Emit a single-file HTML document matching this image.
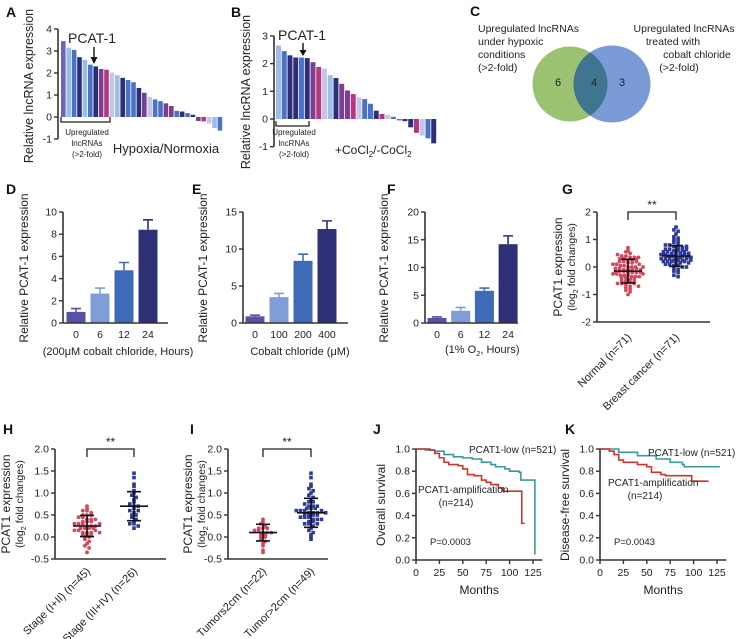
<!DOCTYPE html>
<html><head><meta charset="utf-8"><style>
html,body{margin:0;padding:0;background:#fff;}
svg{display:block;font-family:"Liberation Sans",Arial,sans-serif;}
</style></head><body>
<svg id="fig" width="739" height="639" viewBox="0 0 739 639"></svg>
<script>
// ---------- DATA ----------
const aValues=[3.45,3.15,3.05,2.72,2.6,2.38,2.3,2.18,2.15,2.02,1.9,1.78,1.68,1.58,1.32,1.1,0.92,0.8,0.72,0.62,0.5,0.28,0.25,0.18,0.1,-0.18,-0.2,-0.3,-0.5,-0.62];
const bValues=[2.65,2.45,2.3,2.22,2.22,2.2,2.05,1.88,1.82,1.58,1.48,1.27,1.03,0.9,0.78,0.72,0.55,0.3,0.18,0.15,0.08,-0.05,-0.08,-0.3,-0.5,-0.6,-0.7,-0.88];
const aTicks=[-1,0,1,2,3,4];
const bTicks=[-1,0,1,2,3];
const dCats=['0','6','12','24'];
const dMeans=[1.0,2.65,4.75,8.4];
const dErr=[0.3,0.5,0.7,0.9];
const dTicks=[0,2,4,6,8,10];
const eCats=['0','100','200','400'];
const eMeans=[0.9,3.5,8.4,12.7];
const eErr=[0.15,0.5,0.9,1.1];
const eTicks=[0,5,10,15];
const fCats=['0','6','12','24'];
const fMeans=[0.9,2.2,5.8,14.2];
const fErr=[0.2,0.6,0.5,1.5];
const fTicks=[0,5,10,15,20];
const gNormal=[0.7,0.6,0.55,0.5,0.45,0.4,0.4,0.35,0.35,0.3,0.3,0.25,0.25,0.2,0.2,0.15,0.15,0.1,0.1,0.05,0.05,0,0,0,-0.05,-0.05,-0.1,-0.1,-0.1,-0.15,-0.15,-0.15,-0.2,-0.2,-0.2,-0.25,-0.25,-0.3,-0.3,-0.3,-0.35,-0.35,-0.4,-0.4,-0.45,-0.45,-0.5,-0.5,-0.55,-0.55,-0.6,-0.6,-0.65,-0.7,-0.75,-0.8,-0.85,-0.9,-1.0,-0.05,0.1,-0.2,0.3,-0.35,0.0,-0.1,-0.25,0.2,-0.6,-0.7,0.35];
const gCancer=[1.45,1.35,1.3,1.2,1.1,1.05,1.0,0.95,0.9,0.85,0.8,0.8,0.75,0.7,0.7,0.65,0.65,0.6,0.6,0.55,0.55,0.5,0.5,0.5,0.45,0.45,0.45,0.4,0.4,0.4,0.4,0.35,0.35,0.35,0.3,0.3,0.3,0.25,0.25,0.25,0.2,0.2,0.2,0.15,0.15,0.1,0.1,0.05,0.05,0,0,-0.05,-0.1,-0.15,-0.2,-0.3,-0.35,0.4,0.45,0.35,0.55,0.3,0.6,0.25,0.5,0.65,0.2,0.75,0.15,0.4,0.35];
const gStats=[[-0.15,0.43],[0.4,0.38]];
const gTicks=[-2,-1,0,1,2];
const hLow=[0.7,0.65,0.6,0.6,0.55,0.5,0.5,0.45,0.45,0.4,0.4,0.35,0.35,0.3,0.3,0.3,0.25,0.25,0.25,0.2,0.2,0.2,0.15,0.15,0.1,0.1,0.1,0.05,0.05,0,0,-0.05,-0.1,-0.15,-0.2,-0.25,-0.35,0.35,0.2,0.15,0.05,0.4,0.3,0.1,0.5];
const hHigh=[1.45,1.35,1.2,1.15,1.05,1.0,0.95,0.9,0.85,0.8,0.75,0.7,0.7,0.65,0.6,0.55,0.5,0.5,0.45,0.4,0.35,0.3,0.3,0.25,0.2,0.6];
const hStats=[[0.25,0.24],[0.7,0.33]];
const iLow=[0.4,0.35,0.3,0.25,0.2,0.2,0.15,0.15,0.1,0.1,0.1,0.05,0.05,0,0,-0.05,-0.1,-0.15,-0.2,-0.3,-0.35,0.2];
const iHigh=[1.45,1.35,1.2,1.15,1.1,1.05,1.0,0.95,0.9,0.85,0.8,0.8,0.75,0.7,0.7,0.65,0.65,0.6,0.6,0.6,0.55,0.55,0.55,0.5,0.5,0.5,0.45,0.45,0.45,0.4,0.4,0.35,0.35,0.3,0.3,0.25,0.2,0.15,0.1,0.05,0,-0.05,0.5,0.6,0.4,0.7,0.3,0.55,0.65];
const iStats=[[0.1,0.19],[0.55,0.33]];
const hiTicks=[-0.5,0,0.5,1.0,1.5,2.0];
const kmTicksX=[0,25,50,75,100,125];
const kmTicksY=[0,0.2,0.4,0.6,0.8,1.0];
const jLowT=[0,10,20,30,40,50,60,70,80,85,95,100,110,112,127,127];
const jLowS=[1,0.99,0.98,0.95,0.93,0.92,0.91,0.88,0.86,0.84,0.82,0.8,0.79,0.72,0.72,0.05];
const jAmpT=[0,15,20,25,30,35,45,50,55,62,70,75,80,88,93,113,113,116];
const jAmpS=[1,0.99,0.96,0.92,0.88,0.86,0.85,0.82,0.77,0.76,0.72,0.7,0.68,0.65,0.62,0.61,0.33,0.33];
const kLowT=[0,20,40,60,75,88,90,128];
const kLowS=[1,0.97,0.94,0.91,0.88,0.86,0.84,0.84];
const kAmpT=[0,10,15,20,25,40,50,55,65,70,98,98,116];
const kAmpS=[1,0.98,0.95,0.9,0.88,0.86,0.84,0.79,0.77,0.76,0.76,0.71,0.71];

// ---------- STYLE ----------
const colorsA=['#6a66b8','#9bbde8','#4a72c8','#2c2f78','#9bbde8','#4a72c8','#2c2f78','#7a3f8e','#b6367f','#c5c6e6','#9bbde8','#2c2f78','#4a72c8','#4a72c8','#2c2f78','#7a3f8e','#c5c6e6','#4a72c8','#4a72c8','#7a3f8e','#7a3f8e','#4a72c8','#2c2f78','#4a72c8','#2c2f78','#7a3f8e','#b6367f','#c5c6e6','#9bbde8','#4a72c8'];
const colorsB=['#9bbde8','#4a72c8','#2c2f78','#2c2f78','#4a72c8','#2c2f78','#7a3f8e','#b6367f','#c5c6e6','#9bbde8','#2c2f78','#7a3f8e','#7a3f8e','#b6367f','#c5c6e6','#4a72c8','#4a72c8','#2c2f78','#b6367f','#c5c6e6','#4a72c8','#4a72c8','#2c2f78','#2c2f78','#b6367f','#c5c6e6','#4a72c8','#2c2f78'];
const barCols=['#5552a8','#7f9ed8','#3f6ab8','#2e3175'];
const RED='#d4475c', BLUE='#2f3a98', TEAL='#3a9a9a', KRED='#c8362f';

const NS='http://www.w3.org/2000/svg';
const svg=document.getElementById('fig');
function mk(tag,attrs,parent){const e=document.createElementNS(NS,tag);for(const k in attrs)e.setAttribute(k,attrs[k]);(parent||svg).appendChild(e);return e;}
function grp(name){const g=mk('g',{});return g;}
function txt(p,x,y,s,size,anchor,extra){const t=mk('text',Object.assign({x:x,y:y,'font-size':size,'text-anchor':anchor||'start',fill:'#222'},extra||{}),p);t.textContent=s;return t;}
function yAxis(p,x,sc,ticks,fmt){mk('line',{x1:x,x2:x,y1:sc(ticks[0]),y2:sc(ticks[ticks.length-1]),stroke:'#333','stroke-width':1.6},p);
 ticks.forEach(v=>{mk('line',{x1:x-4,x2:x,y1:sc(v),y2:sc(v),stroke:'#333','stroke-width':1.4},p);txt(p,x-6,sc(v)+3.5,fmt?fmt(v):String(v),10.5,'end');});}
function letter(s,x,y){const t=txt(svg,x,y,s,14,'start',{'font-weight':'bold',fill:'#111'});}
function vtitle(p,x,cy,s,size){const t=txt(p,x,cy,s,size||12,'middle',{transform:'rotate(-90 '+x+' '+cy+')'});return t;}

// ---------- PANEL A ----------
(function(){const g=grp('panel-a-waterfall');letter('A',6,17);
 const sc=v=>117-v*22;const x0=61,pitch=5.4;
 aValues.forEach((v,i)=>{const r=mk('rect',{x:x0+i*pitch,y:Math.min(sc(v),sc(0)),width:pitch-0.8,height:Math.abs(sc(v)-sc(0)),fill:colorsA[i%colorsA.length]},g);
  
  });
 yAxis(g,58,sc,aTicks);
 vtitle(g,33,86,'Relative lncRNA expression',12.5);
 txt(g,92,43,'PCAT-1',14,'middle');
 mk('line',{x1:94,x2:94,y1:47,y2:60,stroke:'#111','stroke-width':1.4},g);
 mk('path',{d:'M90.5 57 L94 64 L97.5 57 Z',fill:'#111'},g);
 mk('path',{d:'M61 117 V122 H110 V117',fill:'none',stroke:'#222','stroke-width':1.3},g);
 txt(g,87,135,'Upregulated',8,'middle');txt(g,87,146,'lncRNAs',8,'middle');txt(g,87,157,'(>2-fold)',8,'middle');
 txt(g,166,153,'Hypoxia/Normoxia',13,'middle');
})();

// ---------- PANEL B ----------
(function(){const g=grp('panel-b-waterfall');letter('B',231,17);
 const sc=v=>119-v*27.7;const x0=276,pitch=5.75;
 bValues.forEach((v,i)=>{const r=mk('rect',{x:x0+i*pitch,y:Math.min(sc(v),sc(0)),width:pitch-0.8,height:Math.abs(sc(v)-sc(0)),fill:colorsB[i%colorsB.length]},g);
  
  });
 yAxis(g,274,sc,bTicks);
 vtitle(g,250,92,'Relative lncRNA expression',12.5);
 txt(g,302,40,'PCAT-1',14,'middle');
 mk('line',{x1:303,x2:303,y1:43,y2:52,stroke:'#111','stroke-width':1.4},g);
 mk('path',{d:'M299.5 50 L303 56 L306.5 50 Z',fill:'#111'},g);
 mk('path',{d:'M276 121 V126 H309 V121',fill:'none',stroke:'#222','stroke-width':1.3},g);
 txt(g,294,135,'Upregulated',8,'middle');txt(g,294,146,'lncRNAs',8,'middle');txt(g,294,157,'(>2-fold)',8,'middle');
 const t=txt(g,335,154,'+CoCl',12,'start');const s1=mk('tspan',{'font-size':8,dy:3},t);s1.textContent='2';const s2=mk('tspan',{dy:-3},t);s2.textContent='/-CoCl';const s3=mk('tspan',{'font-size':8,dy:3},t);s3.textContent='2';
})();

// ---------- PANEL C ----------
(function(){const g=grp('panel-c-venn');letter('C',470,16);
 const c1=mk('circle',{cx:570,cy:84,r:37.5,fill:'#9bc271'},g);
 const c2=mk('circle',{cx:612,cy:84,r:38.5,fill:'#7a9bd6'},g);
 const clip=mk('clipPath',{id:'cc1'},g);mk('circle',{cx:570,cy:84,r:37.5},clip);
 mk('circle',{cx:612,cy:84,r:38.5,fill:'#3f7590','clip-path':'url(#cc1)'},g);
 txt(g,558,86,'6',11,'middle');txt(g,594,86,'4',11,'middle');txt(g,622,86,'3',11,'middle');
 [['Upregulated lncRNAs',32],['under hypoxic',45],['conditions',58],['(>2-fold)',71]].forEach(a=>txt(g,478,a[1],a[0],10.5,'start'));
 txt(g,684,32,'Upregulated lncRNAs',10.5,'middle');txt(g,673,45,'treated with',10.5,'middle');txt(g,697,58,'cobalt chloride',10.5,'middle');txt(g,679,71,'(>2-fold)',10.5,'middle');
})();

// ---------- BAR PANELS D E F ----------
function barPanel(name,L,axX,axEnd,x0,pitch,top,max,ticks,cats,means,errs,title,titleX){
 const g=grp(name);letter(L[0],L[1],L[2]);const sc=v=>323-v*(323-top)/max;
 means.forEach((m,i)=>{const cx=x0+i*pitch;
  const r=mk('rect',{x:cx-9.5,y:sc(m),width:19,height:sc(0)-sc(m),fill:barCols[i]},g);
  
  
  mk('path',{d:'M'+cx+' '+sc(m)+' V'+sc(m+errs[i])+' M'+(cx-5)+' '+sc(m+errs[i])+' H'+(cx+5),stroke:barCols[i],'stroke-width':1.6,fill:'none'},g);
  txt(g,cx,338,cats[i],10.5,'middle');});
 mk('line',{x1:axX,x2:axEnd,y1:323,y2:323,stroke:'#333','stroke-width':1.6},g);
 yAxis(g,axX,sc,ticks);
 vtitle(g,titleX,268,'Relative PCAT-1 expression',12);
 return g;}
(function(){const g=barPanel('panel-d-bars',['D',6,194],63,168,76,24,212,10,dTicks,dCats,dMeans,dErr,'',28);txt(g,118,355,'(200μM cobalt chloride, Hours)',11,'middle');})();
(function(){const g=barPanel('panel-e-bars',['E',192,194],243,348,255,24,212,15,eTicks,eCats,eMeans,eErr,'',207);txt(g,300,355,'Cobalt chloride (μM)',11,'middle');})();
(function(){const g=barPanel('panel-f-bars',['F',387,194],425,518,437,23.7,212,20,fTicks,fCats,fMeans,fErr,'',388);
 const t=txt(g,445,353,'(1% O',11,'start');const s=mk('tspan',{'font-size':7.5,dy:3},t);s.textContent='2';const s2=mk('tspan',{dy:-3},t);s2.textContent=', Hours)';})();

// ---------- SCATTER PANELS ----------
function swarm(g,vals,sc,cx,col,square,name,halfW){
 const binH=3.2;const bins={};vals.forEach(v=>{const b=Math.round(sc(v)/binH);(bins[b]=bins[b]||[]).push(v);});
 Object.keys(bins).forEach(b=>{const arr=bins[b];const n=arr.length;const d=n>1?Math.min(4.2,2*halfW/(n-1)):0;
  arr.forEach((v,i)=>{const x=cx+(i-(n-1)/2)*d;const y=sc(v);
  const m=square?mk('rect',{x:x-1.8,y:y-1.8,width:3.6,height:3.6,fill:col},g):mk('circle',{cx:x,cy:y,r:1.9,fill:col},g);
  
  });});}
function stats(g,cx,sc,s){mk('path',{d:'M'+(cx-14)+' '+sc(s[0])+' H'+(cx+14)+' M'+cx+' '+sc(s[0]-s[1])+' V'+sc(s[0]+s[1])+' M'+(cx-7)+' '+sc(s[0]-s[1])+' H'+(cx+7)+' M'+(cx-7)+' '+sc(s[0]+s[1])+' H'+(cx+7),stroke:'#111','stroke-width':1.6,fill:'none'},g);}
function scatterPanel(name,axX,axEnd,yTop,yBot,ticks,fmt,c1,c2,v1,v2,s1,s2,labels,labY,tx,hw){
 const g=grp(name);const lo=ticks[0],hi=ticks[ticks.length-1];const sc=v=>yBot-(v-lo)*(yBot-yTop)/(hi-lo);
 swarm(g,v1,sc,c1,RED,false,name+'-point-group1',hw);swarm(g,v2,sc,c2,BLUE,true,name+'-point-group2',hw);
 stats(g,c1,sc,s1);stats(g,c2,sc,s2);
 mk('line',{x1:axX,x2:axEnd,y1:yBot,y2:yBot,stroke:'#333','stroke-width':1.6},g);
 yAxis(g,axX,sc,ticks,fmt);
 mk('path',{d:'M'+c1+' '+(yTop+8)+' V'+yTop+' H'+c2+' V'+(yTop+8),stroke:'#222','stroke-width':1.3,fill:'none'},g);
 txt(g,(c1+c2)/2,yTop-3,'**',12,'middle');
 [c1,c2].forEach((c,i)=>txt(g,c+4,labY,labels[i],11,'end',{transform:'rotate(-45 '+(c+4)+' '+labY+')'}));
 vtitle(g,tx,(yTop+yBot)/2,'PCAT1 expression',12);
 const t2=txt(g,tx+13,(yTop+yBot)/2,'(log',10.5,'middle',{transform:'rotate(-90 '+(tx+13)+' '+((yTop+yBot)/2)+')'});
 const sb=mk('tspan',{'font-size':7.5,dy:3},t2);sb.textContent='2';const sr=mk('tspan',{dy:-3},t2);sr.textContent=' fold changes)';
 return g;}
letter('G',562,194);
scatterPanel('panel-g-scatter',597,710,212,322,gTicks,null,628,676,gNormal,gCancer,gStats[0],gStats[1],['Normal (n=71)','Breast cancer (n=71)'],338,562,15);
letter('H',3,434);
const f1=v=>v.toFixed(1);
scatterPanel('panel-h-scatter',55,166,449,559,hiTicks,f1,87,134,hLow,hHigh,hStats[0],hStats[1],['Stage (I+II) (n=45)','Stage (III+IV) (n=26)'],572,10,16);
letter('I',190,434);
scatterPanel('panel-i-scatter',228,328,449,559,hiTicks,f1,263,311,iLow,iHigh,iStats[0],iStats[1],['Tumors2cm (n=22)','Tumor>2cm (n=49)'],572,192,16);

// ---------- KM PANELS ----------
function km(name,L,axX,x125,ylab,lowT,lowS,ampT,ampS,pval,lowLab,ampLab){
 const g=grp(name);letter(L[0],L[1],L[2]);
 const sx=t=>axX+t*(x125-axX)/125, sy=s=>560-s*111;
 function curve(T,S,col,n){let d='M'+sx(T[0])+' '+sy(S[0]);for(let i=1;i<T.length;i++)d+=' H'+sx(T[i])+' V'+sy(S[i]);
  const p=mk('path',{d:d,fill:'none',stroke:col,'stroke-width':1.6},g);}
 curve(lowT,lowS,TEAL,name+'-low-curve');curve(ampT,ampS,KRED,name+'-amp-curve');
 mk('line',{x1:axX,x2:sx(135),y1:560,y2:560,stroke:'#333','stroke-width':1.6},g);
 kmTicksX.forEach(t=>{mk('line',{x1:sx(t),x2:sx(t),y1:560,y2:564,stroke:'#333','stroke-width':1.4},g);txt(g,sx(t),576,String(t),10.5,'middle');});
 yAxis(g,axX,sy,kmTicksY,v=>v.toFixed(1));
 txt(g,(axX+sx(135))/2,594,'Months',12,'middle');
 vtitle(g,axX-31,505,ylab,12);
 txt(g,lowLab[0],lowLab[1],'PCAT1-low (n=521)',10,'start');
 txt(g,ampLab[0],ampLab[1],'PCAT1-amplification',10,ampLab[2]);txt(g,ampLab[3],ampLab[1]+13,'(n=214)',10,'middle');
 txt(g,axX+14,545,pval,9.5,'start');}
km('panel-j-km',['J',373,434],416,533,'Overall survival',jLowT,jLowS,jAmpT,jAmpS,'P=0.0003',[469,453],[418,493,'start',456]);
km('panel-k-km',['K',565,434],600,717,'Disease-free survival',kLowT,kLowS,kAmpT,kAmpS,'P=0.0043',[648,456],[608,486,'start',645]);
</script>
</body></html>
